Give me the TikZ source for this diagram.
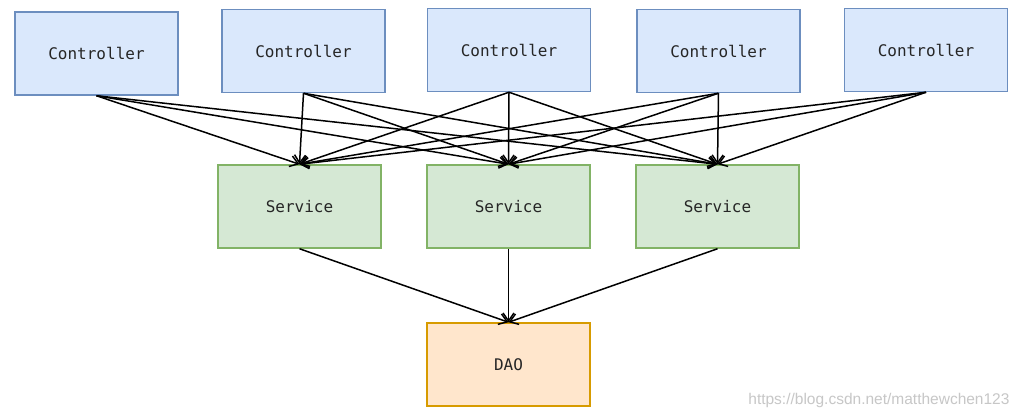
\documentclass[tikz,border=0pt]{standalone}
\usepackage{fontspec}
\setmonofont{DejaVu Sans Mono}
\newfontfamily\wmfont{Liberation Sans}
\usetikzlibrary{arrows.meta}
\definecolor{cfill}{HTML}{DAE8FC}\definecolor{cdraw}{HTML}{6C8EBF}
\definecolor{sfill}{HTML}{D5E8D4}\definecolor{sdraw}{HTML}{82B366}
\definecolor{dfill}{HTML}{FFE6CC}\definecolor{ddraw}{HTML}{D79B00}
\tikzset{
  box/.style={rectangle, minimum width=163pt, minimum height=83pt, line width=1.5pt,
    font=\ttfamily\fontsize{16}{18}\selectfont, text=black!85, inner sep=0pt},
  ctrl/.style={box, fill=cfill, draw=cdraw},
  serv/.style={box, fill=sfill, draw=sdraw},
  dao/.style={box, fill=dfill, draw=ddraw},
  conn/.style={line width=1.5pt, -{Straight Barb[length=8pt,width=11pt]}},
}
\begin{document}
\begin{tikzpicture}[x=1pt,y=-1pt]
\useasboundingbox[fill=white] (0,0) rectangle (1022,420);
\node[ctrl] (c1) at (96.5,53.5) {Controller};
\node[ctrl] (c2) at (303.5,51) {Controller};
\node[ctrl] (c3) at (509,50) {Controller};
\node[ctrl] (c4) at (718.5,51) {Controller};
\node[ctrl] (c5) at (926,50) {Controller};
\node[serv] (s1) at (299.5,206.5) {Service};
\node[serv] (s2) at (508.5,206.5) {Service};
\node[serv] (s3) at (717.5,206.5) {Service};
\node[dao] (d) at (508.5,364.5) {DAO};
\foreach \c in {c1,c2,c3,c4,c5}{
  \foreach \s in {s1,s2,s3}{
    \draw[conn] (\c.south) -- (\s.north);
  }
}
\foreach \s in {s1,s2,s3}{
  \draw[conn] (\s.south) -- (d.north);
}
\node[font=\wmfont\fontsize{15.5}{17}\selectfont, text=black!22, anchor=east] (wm) at (1013,400) {https://blog.csdn.net/matthewchen123};
\end{tikzpicture}
\end{document}
